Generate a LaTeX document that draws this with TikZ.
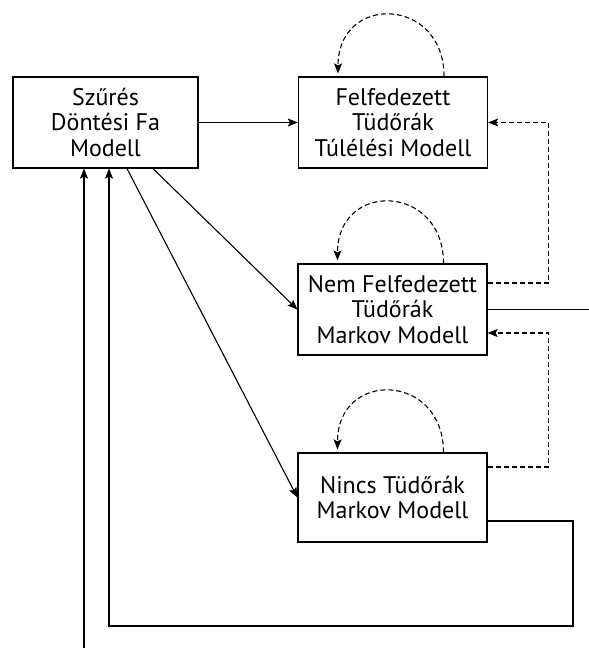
\documentclass[tikz,border=0pt]{standalone}
\usepackage{fontspec}
\setmainfont{PT Sans}
\usetikzlibrary{arrows.meta}
\tikzset{
  modell/.style={draw, line width=1.2pt, align=center, inner sep=0pt,
    minimum width=189pt, minimum height=91pt,
    font=\fontsize{24}{25.5}\selectfont},
  flow/.style={line width=1.1pt, -{Stealth[length=10pt,width=8pt,inset=2pt]}},
  back/.style={flow, dash pattern=on 5pt off 3pt},
}
\newcommand{\selfloop}[1]{\draw[back] ([xshift=51pt]#1.north) .. controls +(0,80) and +(0,80) .. ([xshift=-55pt,yshift=3pt]#1.north);}

\begin{document}
\begin{tikzpicture}[x=1pt,y=1pt]
  \useasboundingbox (0,0) rectangle (589,648);
  % boxes
  \node[modell, minimum width=185pt] (szures) at (105.5,525.5) {Szűrés\\Döntési Fa\\Modell};
  \node[modell] (felf) at (393,525.5) {Felfedezett\\Tüdőrák\\Túlélési Modell};
  \node[modell] (nemfelf) at (392.5,338.5) {Nem Felfedezett\\Tüdőrák\\Markov Modell};
  \node[modell, minimum height=89pt] (nincs) at (392.5,150.5) {Nincs Tüdőrák\\Markov Modell};

  % forward
  \draw[flow] (szures) -- (felf);
  \draw[flow] ([xshift=47.5pt]szures.south) -- (nemfelf.west);
  \draw[flow] ([xshift=21.5pt]szures.south) -- (nincs.west);

  % self loops
  \selfloop{felf}
  \selfloop{nemfelf}
  \selfloop{nincs}

  % dashed back
  \draw[back] ([yshift=26.5pt]nemfelf.east) -| ([xshift=60.5pt]felf.east) -- (felf.east);
  \draw[back] ([yshift=30.5pt]nincs.east) -| ([xshift=60.5pt,yshift=-23.5pt]nemfelf.east) -- ([yshift=-23.5pt]nemfelf.east);

  % out and in
  \coordinate (kimenet) at (589,338.5);
  \draw[line width=1.1pt] (nemfelf.east) -- (kimenet);
  \coordinate (bemenet) at (84,0);
  \draw[flow] (bemenet) -- (bemenet |- szures.south);
  \draw[flow] ([yshift=-23.5pt]nincs.east) -| (573,22) -| ([xshift=3.5pt]szures.south);
\end{tikzpicture}
\end{document}
